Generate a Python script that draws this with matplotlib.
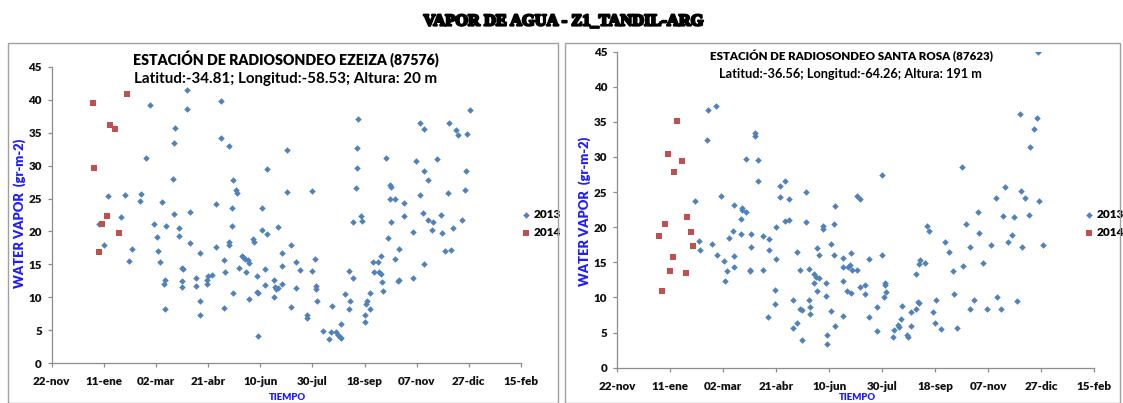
import matplotlib
matplotlib.use("Agg")
import matplotlib.pyplot as plt
from matplotlib.patches import Rectangle
import matplotlib.patheffects as pe

# ---------------- data (x = days since 22-nov-2012) ----------------
tick_labels = ["22-nov", "11-ene", "02-mar", "21-abr", "10-jun", "30-jul",
               "18-sep", "07-nov", "27-dic", "15-feb"]
tick_days = [0, 50, 100, 150, 200, 250, 300, 350, 400, 450]
y_ticks = [0, 5, 10, 15, 20, 25, 30, 35, 40, 45]

ezeiza_2014_day = [40, 41, 45, 48, 53, 56, 61, 65, 72]
ezeiza_2014_val = [39.5, 29.7, 16.9, 21.2, 22.3, 36.2, 35.6, 19.7, 40.8]

ezeiza_2013_day = [45, 50, 54, 66, 70, 74, 77, 85, 86, 90, 94, 98, 101, 102, 104, 106,
                   108, 109, 109, 110, 116, 117, 117, 118, 122, 122, 125, 126, 125, 125,
                   130, 130, 133, 133, 138, 138, 142, 142, 142, 149, 149, 150, 154, 158,
                   158, 162, 162, 165, 166, 165, 170, 170, 170, 173, 173, 174, 174, 177,
                   178, 180, 182, 183, 185, 186, 188, 189, 189, 193, 194, 197, 198, 197,
                   198, 202, 202, 205, 205, 206, 206, 213, 213, 214, 215, 217, 217, 221,
                   221, 221, 226, 226, 229, 229, 234, 234, 238, 245, 245, 250, 250, 252,
                   253, 253, 254, 260, 266, 268, 269, 273, 275, 276, 277, 277, 281, 285,
                   285, 286, 289, 289, 292, 293, 293, 294, 297, 298, 300, 300, 301, 302,
                   305, 305, 308, 309, 313, 314, 316, 316, 317, 318, 321, 322, 324, 325,
                   324, 325, 329, 329, 332, 333, 333, 338, 338, 346, 346, 349, 353, 353,
                   356, 357, 357, 357, 361, 361, 365, 366, 369, 373, 374, 377, 380, 381,
                   383, 385, 388, 390, 393, 396, 397, 398, 401]
ezeiza_2013_val = [21.1, 18.0, 25.4, 22.2, 25.6, 15.5, 17.3, 24.6, 25.7, 31.2, 39.2, 21.1,
                   19.1, 17.1, 15.3, 24.5, 12.1, 12.6, 8.2, 20.8, 27.9, 22.7, 33.4, 35.7,
                   20.6, 19.3, 14.5, 14.3, 12.5, 11.6, 38.6, 41.5, 22.9, 18.2, 13.0, 11.7,
                   16.8, 9.4, 7.3, 12.6, 12.0, 13.3, 13.4, 24.2, 17.6, 39.8, 34.2, 15.6,
                   13.8, 8.4, 33.0, 18.4, 17.9, 23.5, 20.9, 27.8, 10.6, 26.3, 25.8, 14.5,
                   16.3, 16.1, 15.9, 13.8, 15.6, 15.2, 9.8, 18.8, 18.4, 10.8, 10.6, 13.3,
                   4.2, 23.5, 20.2, 14.3, 11.9, 29.5, 19.6, 12.7, 10.1, 11.6, 11.2, 11.4,
                   20.7, 12.1, 16.7, 14.7, 32.4, 26.0, 18.0, 8.6, 15.4, 11.5, 14.2, 7.4,
                   6.8, 26.2, 14.0, 15.8, 11.8, 11.2, 9.4, 4.9, 3.7, 4.7, 8.7, 4.8, 4.3,
                   4.0, 3.9, 6.0, 10.5, 14.0, 8.3, 9.5, 21.5, 13.0, 26.6, 29.6, 32.6, 37.1,
                   22.4, 21.6, 6.2, 7.3, 9.0, 9.5, 10.7, 8.2, 15.3, 13.9, 15.3, 13.8, 13.5,
                   16.3, 12.4, 10.9, 31.2, 19.0, 27.1, 26.7, 24.9, 21.4, 24.9, 15.8, 12.5,
                   17.4, 12.6, 24.3, 22.4, 19.9, 12.9, 30.7, 36.5, 25.6, 22.8, 15.0, 35.5,
                   29.2, 27.8, 21.7, 20.3, 21.4, 31.0, 22.5, 19.7, 17.1, 25.9, 36.4, 17.2,
                   20.6, 35.4, 34.7, 21.7, 26.3, 29.2, 34.8, 38.5]

rosa_2014_day = [40, 42, 45, 48, 50, 53, 54, 57, 61, 65, 66, 70, 72]
rosa_2014_val = [18.8, 10.9, 20.5, 30.4, 13.7, 15.7, 27.9, 35.1, 29.5, 13.5, 21.4, 19.3, 17.3]

rosa_2013_day = [74, 77, 78, 85, 86, 90, 93, 94, 98, 101, 102, 104, 106, 109, 110, 110,
                 110, 117, 117, 118, 118, 122, 122, 125, 125, 126, 126, 130, 130, 133, 133,
                 138, 138, 142, 143, 143, 149, 149, 150, 150, 154, 154, 158, 158, 162, 162,
                 166, 166, 170, 170, 173, 174, 174, 173, 178, 178, 181, 181, 182, 182, 186,
                 186, 188, 189, 189, 190, 190, 194, 194, 197, 197, 198, 198, 202, 202, 205,
                 205, 206, 206, 213, 213, 213, 213, 217, 218, 220, 221, 221, 222, 226, 226,
                 229, 229, 234, 234, 238, 238, 245, 245, 250, 250, 252, 253, 253, 254, 260,
                 261, 265, 266, 268, 269, 273, 274, 277, 277, 282, 282, 284, 285, 285, 286,
                 290, 292, 294, 298, 300, 301, 305, 309, 313, 317, 318, 321, 325, 326, 329,
                 333, 333, 337, 340, 341, 345, 349, 353, 357, 358, 362, 364, 366, 369, 372,
                 374, 377, 380, 381, 382, 385, 388, 389, 393, 396, 397, 398, 402]
rosa_2013_val = [23.8, 18.0, 16.8, 32.4, 36.7, 17.6, 37.3, 16.1, 24.5, 15.2, 12.3, 13.7,
                 18.5, 19.5, 14.4, 23.2, 15.9, 21.1, 19.1, 22.7, 22.4, 22.1, 29.7, 13.8,
                 13.9, 19.0, 17.2, 33.4, 33.0, 29.6, 26.6, 18.7, 13.9, 7.2, 18.3, 16.8,
                 11.1, 9.0, 20.0, 15.5, 25.9, 24.3, 26.6, 20.9, 21.0, 24.0, 9.6, 5.6, 16.5,
                 6.3, 8.4, 8.2, 3.9, 13.9, 25.0, 20.8, 14.0, 9.7, 8.7, 7.6, 13.3, 12.1,
                 12.9, 17.1, 10.9, 16.1, 12.8, 19.8, 20.2, 12.0, 10.2, 4.6, 3.3, 17.6, 8.1,
                 20.5, 16.0, 23.0, 5.9, 15.6, 12.4, 14.4, 7.3, 10.9, 14.3, 14.6, 10.6, 16.3,
                 13.9, 13.9, 24.5, 24.0, 11.5, 11.8, 10.5, 15.5, 7.2, 8.7, 5.2, 27.5, 16.1,
                 10.0, 11.7, 12.1, 10.7, 4.3, 5.3, 6.0, 5.8, 6.9, 8.8, 4.6, 4.4, 5.9, 7.9,
                 13.3, 8.3, 9.4, 9.2, 14.7, 15.3, 14.9, 20.2, 19.5, 7.9, 6.4, 9.6, 5.5,
                 17.9, 16.4, 13.8, 10.5, 5.6, 28.6, 14.5, 20.4, 8.4, 17.2, 9.7, 22.2, 19.2,
                 14.9, 8.4, 17.5, 24.1, 10.1, 8.4, 21.6, 25.7, 17.9, 18.9, 21.4, 9.5, 36.1,
                 25.2, 17.2, 24.1, 21.8, 31.4, 34.0, 35.6, 45.0, 23.7, 17.4]

# ---------------- styling ----------------
W, H = 1123, 403
BLUE = "#4F81BD"
RED = "#C0504D"
LBLUE = "#1c1cff"
FONT = ["Lato", "DejaVu Sans"]
plt.rcParams["font.family"] = FONT

fig = plt.figure(figsize=(W / 100, H / 100), dpi=100)
renderer = fig.canvas.get_renderer()


def fx(px):
    return px / W


def fy(py):
    return 1 - py / H


def fit(t, target, vertical=False):
    for _ in range(3):
        bb = t.get_window_extent(renderer)
        cur = bb.height if vertical else bb.width
        t.set_fontsize(t.get_fontsize() * target / cur)


# panel borders
for (x0, x1) in [(8, 558), (565, 1120)]:
    fig.patches.append(Rectangle((fx(x0), 0), fx(x1 - x0), fy(42.5),
                                 transform=fig.transFigure, fill=False,
                                 edgecolor="#a0a0a0", linewidth=1.0))

sup = fig.text(fx(563), fy(21.5), "VAPOR DE AGUA - Z1_TANDIL-ARG", ha="center",
               va="center", fontsize=12, fontweight="bold",
               family=["Liberation Serif", "DejaVu Serif"],
               path_effects=[pe.withStroke(linewidth=1.6, foreground="black")])
fit(sup, 280)


def make_panel(px_left, px_right, px_top, px_bottom, d13, v13, d14, v14,
               t1, t2, t1_xy, t2_xy, t1_w, t2_w, ylab_xy, ylab_h, xlab_xy, leg_x):
    ax = fig.add_axes([fx(px_left), fy(px_bottom), fx(px_right - px_left),
                       (px_bottom - px_top) / H])
    ax.scatter(d13, v13, marker="D", s=11, color=BLUE, linewidths=0, label="2013", zorder=3)
    ax.scatter(d14, v14, marker="s", s=18, color=RED, linewidths=0, label="2014", zorder=3)
    ax.set_xlim(tick_days[0], tick_days[-1])
    ax.set_ylim(0, 45)
    ax.set_xticks(tick_days)
    ax.set_xticklabels(tick_labels)
    ax.set_yticks(y_ticks)
    for s in ["top", "right"]:
        ax.spines[s].set_visible(False)
    for s in ["left", "bottom"]:
        ax.spines[s].set_color("#8c8c8c")
        ax.spines[s].set_linewidth(0.9)
    ax.tick_params(axis="both", direction="out", length=3, color="#8c8c8c",
                   labelsize=8.4, width=0.9)
    ax.tick_params(axis="x", pad=6.5)
    ax.tick_params(axis="y", pad=4)
    for lbl in ax.get_xticklabels() + ax.get_yticklabels():
        lbl.set_fontweight("heavy")
        lbl.set_color("#111111")

    a = fig.text(fx(t1_xy[0]), fy(t1_xy[1]), t1, ha="center", va="center",
                 fontsize=10, fontweight="heavy")
    fit(a, t1_w)
    b = fig.text(fx(t2_xy[0]), fy(t2_xy[1]), t2, ha="center", va="center",
                 fontsize=10, fontweight="bold")
    fit(b, t2_w)

    yl = fig.text(fx(ylab_xy[0]), fy(ylab_xy[1]), "WATER VAPOR  (gr-m-2)",
                  rotation=90, ha="center", va="center", color=LBLUE,
                  fontsize=10, fontweight="heavy")
    fit(yl, ylab_h, vertical=True)
    xl = fig.text(fx(xlab_xy[0]), fy(xlab_xy[1]), "TIEMPO", ha="center", va="center",
                  color=LBLUE, fontsize=7.5, fontweight="heavy")
    fit(xl, 37)

    leg = ax.legend(loc="center left", bbox_to_anchor=(fx(leg_x), fy(223.5)),
                    bbox_transform=fig.transFigure, frameon=False,
                    fontsize=8.5, handletextpad=0.15, handlelength=1.0,
                    labelspacing=0.55, borderaxespad=0, borderpad=0)
    for t in leg.get_texts():
        t.set_fontweight("heavy")
    return ax


make_panel(51.7, 521.0, 66.7, 363.3,
           ezeiza_2013_day, ezeiza_2013_val, ezeiza_2014_day, ezeiza_2014_val,
           "ESTACIÓN DE RADIOSONDEO EZEIZA (87576)",
           "Latitud:-34.81; Longitud:-58.53; Altura: 20 m",
           (286, 59.5), (286, 79.5), 305, 303,
           (20, 213), 150, (287, 397.5), 520.5)

make_panel(617.0, 1094.3, 51.7, 367.6,
           rosa_2013_day, rosa_2013_val, rosa_2014_day, rosa_2014_val,
           "ESTACIÓN DE RADIOSONDEO SANTA ROSA (87623)",
           "Latitud:-36.56; Longitud:-64.26; Altura: 191 m",
           (851, 56), (850.5, 73.5), 284, 263,
           (585, 211), 150, (857, 397.5), 1083)

fig.savefig("out.png", dpi=100)
